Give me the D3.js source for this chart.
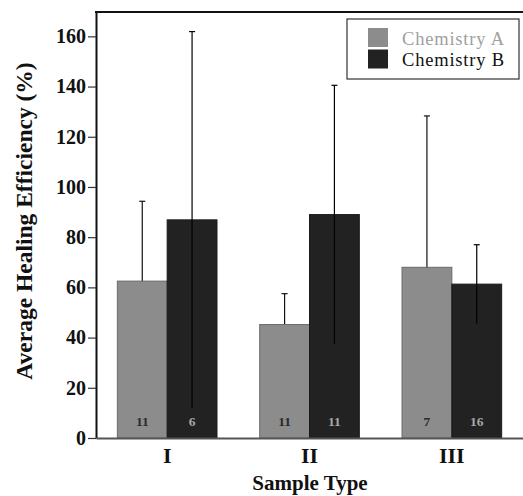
<!DOCTYPE html>
<html>
<head>
<meta charset="utf-8">
<script src="https://cdn.jsdelivr.net/npm/d3@7"></script>
<style>
  body { margin: 0; background: #fff; }
  text { font-family: "Liberation Serif", "DejaVu Serif", serif; }
</style>
</head>
<body>
<svg id="chart" width="523" height="496"></svg>
<script>
var sample_types = ["I", "II", "III"];
var series_names = ["Chemistry A", "Chemistry B"];
var chem_a_mean = [62.5, 45.2, 68.0];
var chem_a_err  = [31.8, 12.3, 60.3];
var chem_b_mean = [86.9, 89.0, 61.3];
var chem_b_err  = [75.0, 51.5, 15.7];
var chem_a_n = [11, 11, 7];
var chem_b_n = [6, 11, 16];
var y_ticks = [0, 20, 40, 60, 80, 100, 120, 140, 160];

var colors = {
    "fill":   ["#8c8c8c", "#222222"],
    "stroke": ["#6a6a6a", "#1a1a1a"],
    "count":  ["#2a2a2a", "#a8a8a8"],
    "legend": ["#a0a0a0", "#111111"]
};

var margin = {left: 96, top: 12, right: 0, bottom: 58};
var W = 523, H = 496;

var svg = d3.select('#chart');

var x = d3.scaleBand()
    .domain(sample_types)
    .range([margin.left, W - margin.right])
    .paddingInner(0.3)
    .paddingOuter(0.15);

var xs = d3.scaleBand()
    .domain([0, 1])
    .range([0, x.bandwidth()]);

var y = d3.scaleLinear()
    .domain([0, 169.7])
    .range([H - margin.bottom, margin.top]);

// build rows from the arrays
var rows = [];
sample_types.forEach(function(t, i){
    rows.push({t: t, s: 0, v: chem_a_mean[i], e: chem_a_err[i], n: chem_a_n[i]});
    rows.push({t: t, s: 1, v: chem_b_mean[i], e: chem_b_err[i], n: chem_b_n[i]});
});

function bx(d){ return x(d.t) + xs(d.s); }
function cx(d){ return bx(d) + xs.bandwidth()/2; }

// error bars of series A sit behind the gray bars (lower half hidden)
var errA = svg.append('g').attr('class','err-a')
    .selectAll('g')
    .data(rows.filter(function(d){ return d.s == 0; }))
    .enter().append('g');
errA.append('line')
    .attr('x1', cx).attr('x2', cx)
    .attr('y1', function(d){ return y(d.v - d.e); })
    .attr('y2', function(d){ return y(d.v + d.e); })
    .attr('stroke', '#111').attr('stroke-width', 1.2);
errA.append('line')
    .attr('x1', function(d){ return cx(d) - 3; })
    .attr('x2', function(d){ return cx(d) + 3; })
    .attr('y1', function(d){ return y(d.v + d.e); })
    .attr('y2', function(d){ return y(d.v + d.e); })
    .attr('stroke', '#111').attr('stroke-width', 1.2);

// bars
svg.append('g').attr('class','bars')
    .selectAll('rect')
    .data(rows)
    .enter().append('rect')
    .attr('x', bx)
    .attr('y', function(d){ return y(d.v); })
    .attr('width', xs.bandwidth())
    .attr('height', function(d){ return y(0) - y(d.v); })
    .attr('fill', function(d){ return colors.fill[d.s]; })
    .attr('stroke', function(d){ return colors.stroke[d.s]; })
    .attr('stroke-width', 1);

// error bars of series B drawn on top
var errB = svg.append('g').attr('class','err-b')
    .selectAll('g')
    .data(rows.filter(function(d){ return d.s == 1; }))
    .enter().append('g');
errB.append('line')
    .attr('x1', cx).attr('x2', cx)
    .attr('y1', function(d){ return y(d.v - d.e); })
    .attr('y2', function(d){ return y(d.v + d.e); })
    .attr('stroke', '#000').attr('stroke-width', 1.2);
errB.append('line')
    .attr('x1', function(d){ return cx(d) - 3; })
    .attr('x2', function(d){ return cx(d) + 3; })
    .attr('y1', function(d){ return y(d.v + d.e); })
    .attr('y2', function(d){ return y(d.v + d.e); })
    .attr('stroke', '#000').attr('stroke-width', 1.2);

// sample counts
svg.append('g').attr('class','counts')
    .selectAll('text')
    .data(rows)
    .enter().append('text')
    .attr('x', cx)
    .attr('y', y(0) - 12)
    .attr('text-anchor', 'middle')
    .attr('font-size', '13.5px')
    .attr('font-weight', 'bold')
    .attr('fill', function(d){ return colors.count[d.s]; })
    .text(function(d){ return d.n; });

// axes
var yAxis = svg.append('g')
    .attr('transform', 'translate(' + margin.left + ',0)')
    .call(d3.axisLeft(y).tickValues(y_ticks).tickSize(8).tickSizeOuter(0).tickPadding(2));
yAxis.select('.domain').attr('stroke', '#111').attr('stroke-width', 2);
yAxis.selectAll('.tick line').attr('stroke', '#333').attr('stroke-width', 1.2);
yAxis.selectAll('.tick text')
    .attr('font-size', '20px').attr('font-weight', 'bold').attr('fill', '#111')
    .style('font-family', '"Liberation Serif", serif');

var xAxis = svg.append('g')
    .attr('transform', 'translate(0,' + y(0) + ')')
    .call(d3.axisBottom(x).tickSize(0).tickPadding(9));
xAxis.select('.domain').attr('stroke', '#555').attr('stroke-width', 2);
xAxis.selectAll('.tick text')
    .attr('font-size', '22px').attr('font-weight', 'bold').attr('fill', '#111')
    .style('font-family', '"Liberation Serif", serif');

// top frame line
svg.append('line')
    .attr('x1', margin.left - 1).attr('x2', W)
    .attr('y1', y.range()[1]).attr('y2', y.range()[1])
    .attr('stroke', '#111').attr('stroke-width', 2);

// axis titles
svg.append('text')
    .attr('x', 310).attr('y', 490)
    .attr('text-anchor', 'middle')
    .attr('font-size', '21px').attr('font-weight', 'bold').attr('fill', '#111')
    .text('Sample Type');

svg.append('text')
    .attr('transform', 'translate(32,' + 221 + ') rotate(-90)')
    .attr('text-anchor', 'middle')
    .attr('font-size', '23.5px').attr('font-weight', 'bold').attr('fill', '#111')
    .text('Average Healing Efficiency (%)');

// legend
var legend = svg.append('g').attr('class','legend');
legend.append('rect')
    .attr('x', 347).attr('y', 19).attr('width', 172).attr('height', 60)
    .attr('fill', '#fff').attr('stroke', '#333').attr('stroke-width', 1.2);
var items = legend.selectAll('g')
    .data(series_names)
    .enter().append('g')
    .attr('transform', function(d,i){ return 'translate(368,' + (28 + i*21.5) + ')'; });
items.append('rect')
    .attr('width', 20).attr('height', 19)
    .attr('fill', function(d,i){ return colors.fill[i]; });
items.append('text')
    .attr('x', 34).attr('y', 16.5)
    .attr('font-size', '18.5px')
    .attr('letter-spacing', '0.8px')
    .attr('fill', function(d,i){ return colors.legend[i]; })
    .text(function(d){ return d; });
</script>
</body>
</html>
